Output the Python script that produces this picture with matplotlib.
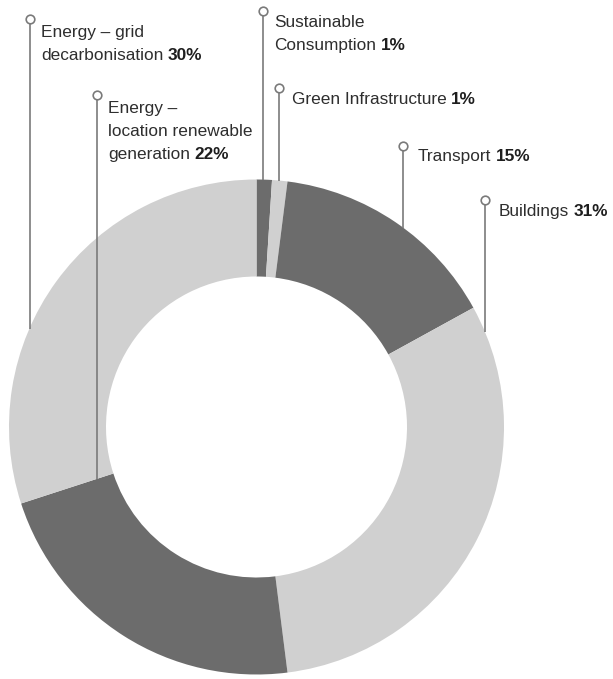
import numpy as np
import matplotlib
matplotlib.use("Agg")
import matplotlib.pyplot as plt

# Emission reduction shares by sector (clockwise from 12 o'clock)
categories = [
    "Sustainable Consumption",
    "Green Infrastructure",
    "Transport",
    "Buildings",
    "Energy – location renewable generation",
    "Energy – grid decarbonisation",
]
shares = [1, 1, 15, 31, 22, 30]
label_lines = [
    ["Sustainable", "Consumption"],
    ["Green Infrastructure"],
    ["Transport"],
    ["Buildings"],
    ["Energy –", "location renewable", "generation"],
    ["Energy – grid", "decarbonisation"],
]

DARK = "#6c6c6c"
LIGHT = "#d0d0d0"
slice_colors = [DARK, LIGHT, DARK, LIGHT, DARK, LIGHT]

W, H = 613, 679
CX, CY = 256.5, H - 427          # donut centre
R_OUT, R_IN = 247.5, 150.5

# callout layout: leader x, marker y, text x, first baseline (pixels from top)
callouts = [
    (262.5, 11, 274, 27),
    (279.0, 88, 292, 104),
    (403.0, 146, 418, 161),
    (485.0, 200, 499, 216),
    (96.5, 95, 108, 113),
    (29.5, 19, 41, 37),
]
LINE_STEP = 23
FS = 12.4
FONT = "Liberation Sans"
TXT = "#2e2e2e"
LEADER = "#7a7a7a"

fig = plt.figure(figsize=(W / 100, H / 100), dpi=100)
ax = fig.add_axes([0, 0, 1, 1])

ax.pie(
    shares,
    colors=slice_colors,
    startangle=90,
    counterclock=False,
    radius=R_OUT,
    center=(CX, CY),
    wedgeprops=dict(width=R_OUT - R_IN, edgecolor="none"),
)
ax.set_xlim(0, W)
ax.set_ylim(0, H)
ax.set_aspect("equal")
ax.axis("off")

bounds = np.concatenate([[0], np.cumsum(shares)]) / np.sum(shares) * 360.0


def leader_end(x, i, y_top):
    """Walk down from the marker until the point lies in slice i."""
    lo, hi = bounds[i], bounds[i + 1]
    for y in np.arange(y_top, 0, -0.25):
        dx, dy = x - CX, y - CY
        if np.hypot(dx, dy) > R_OUT:
            continue
        ang = np.degrees(np.arctan2(dx, dy)) % 360.0
        if lo <= ang <= hi:
            return y
    return CY


renderer = fig.canvas.get_renderer()
for i, (lx, my, tx, base) in enumerate(callouts):
    y_marker = H - my
    y_end = leader_end(lx, i, y_marker)
    ax.plot([lx, lx], [y_marker, y_end], color=LEADER, lw=1.2,
            solid_capstyle="butt", zorder=5)
    ax.plot([lx], [y_marker], marker="o", ms=6.2, mfc="white",
            mec=LEADER, mew=1.2, zorder=6)
    lines = label_lines[i]
    for k, line in enumerate(lines):
        yb = H - (base + k * LINE_STEP)
        t = ax.text(tx, yb, line, fontsize=FS, family=FONT,
                    color=TXT, ha="left", va="baseline", zorder=7)
        if k == len(lines) - 1:
            ext = t.get_window_extent(renderer)
            ax.text(ext.x1 + 4.6, yb, f"{shares[i]}%", fontsize=FS,
                    family=FONT, fontweight="bold",
                    color="#1e1e1e", ha="left", va="baseline", zorder=7)

fig.savefig("out.png", dpi=100)
